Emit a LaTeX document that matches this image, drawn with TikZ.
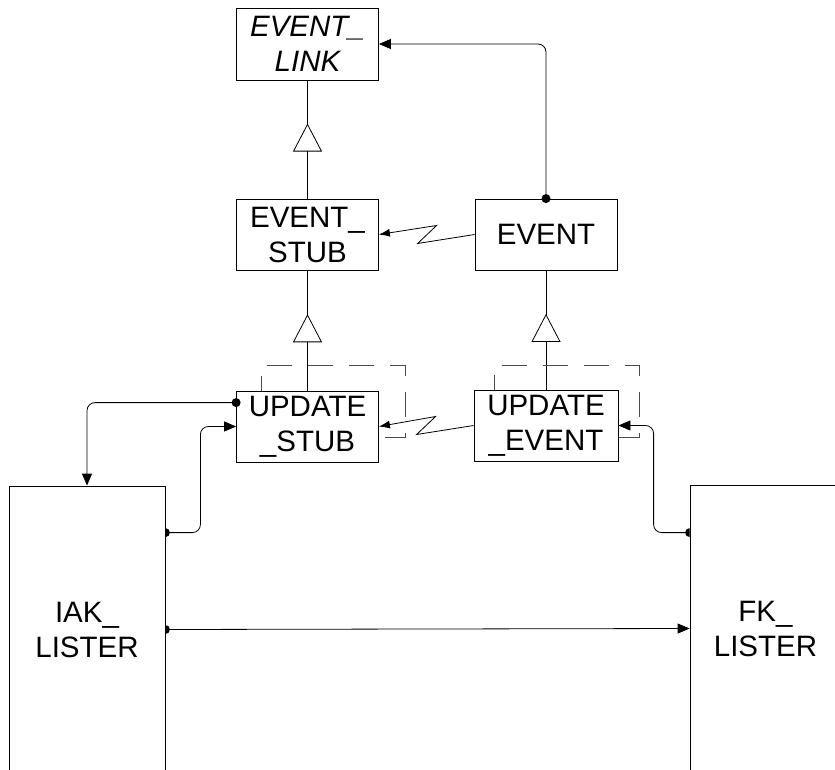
\documentclass[tikz,border=0pt]{standalone}
\usepackage{fontspec}
\setmainfont{Liberation Sans}
\usetikzlibrary{arrows.meta, calc, decorations.markings}
\newcommand{\diagfont}{\fontsize{29.5}{35}\selectfont}

\begin{document}
\begin{tikzpicture}[
    x=1pt, y=-1pt, line width=0.8pt,
    font=\diagfont,
    block/.style={draw, minimum width=142pt, minimum height=71pt, inner sep=0pt, align=center},
    lister/.style={draw, minimum width=156pt, minimum height=287pt, inner sep=0pt, align=center},
    conn/.style={-{Triangle[length=12pt,width=10pt]}, rounded corners=8pt},
    zig/.style={-{Latex[length=11pt,width=8pt]}},
    inherit/.style={postaction={decorate}, decoration={markings,
        mark=at position 0.635 with {\arrow{Triangle[length=28pt,width=29pt,fill=white]}}}},
    selfloop/.style={dash pattern=on 25pt off 16pt, dash phase=10pt, draw=black!70}
]
\useasboundingbox (0,0) rectangle (835,770);
\clip (0,0) rectangle (835,770);

\node[block, minimum height=72pt, font=\diagfont\itshape] (elink) at (307.5,44) {EVENT\_\\LINK};
\node[block] (estub) at (307.5,234.5) {EVENT\_\\STUB};
\node[block] (event) at (546,234.5) {EVENT};
\node[block] (ustub) at (307.5,426.5) {UPDATE\\\_STUB};
\node[block, minimum width=144pt] (uevent) at (546,425.5) {UPDATE\\\_EVENT};
\node[lister] (iak) at (87,629.5) {IAK\_\\LISTER};
\node[lister, minimum width=151pt] (fk) at (765.5,628.5) {FK\_\\LISTER};

\coordinate (ustubout) at ($(ustub.north west)+(0,12)$);
\coordinate (iakout) at ($(iak.north east)+(0,47)$);
\coordinate (fkout) at ($(fk.north west)+(0,48)$);

% inheritance
\draw[inherit] (estub.north) -- (elink.south);
\draw[inherit] (ustub.north) -- (estub.south);
\draw[inherit] (uevent.north) -- (event.south);

% self loops
\draw[selfloop] ($(ustub.north west)+(25,0)$) -- ++(0,-25) -| ($(ustub.east)+(26,11)$) -- ($(ustub.east)+(0,11)$);
\draw[selfloop] ($(uevent.north west)+(21,0)$) -- ++(0,-24) -| ($(uevent.east)+(21,12)$) -- ($(uevent.east)+(0,12)$);

% links
\draw[conn] (event.north) |- (elink.east);
\draw[conn] (ustubout) -| (iak.north);
\draw[conn] (iakout) -- ++(35,0) |- (ustub.west);
\draw[conn] (fkout) -- ++(-36,0) |- (uevent.east);
\draw[conn] (iak.east) -- (fk.west);
\draw[zig] (event.west) -- ++(-57,9) -- ++(19,-18) -- (estub.east);
\draw[zig] (uevent.west) -- ++(-57,9) -- ++(19,-18) -- (ustub.east);

% dots
\fill (event.north) circle[radius=4.5];
\fill (ustubout) circle[radius=4.5];
\fill (iakout) ++(0,-4.5) arc[start angle=-90, end angle=90, radius=4.5] -- cycle;
\fill (iak.east) ++(0,-4.5) arc[start angle=-90, end angle=90, radius=4.5] -- cycle;
\fill (fkout) ++(0,4.5) arc[start angle=90, end angle=270, radius=4.5] -- cycle;

\end{tikzpicture}
\end{document}
